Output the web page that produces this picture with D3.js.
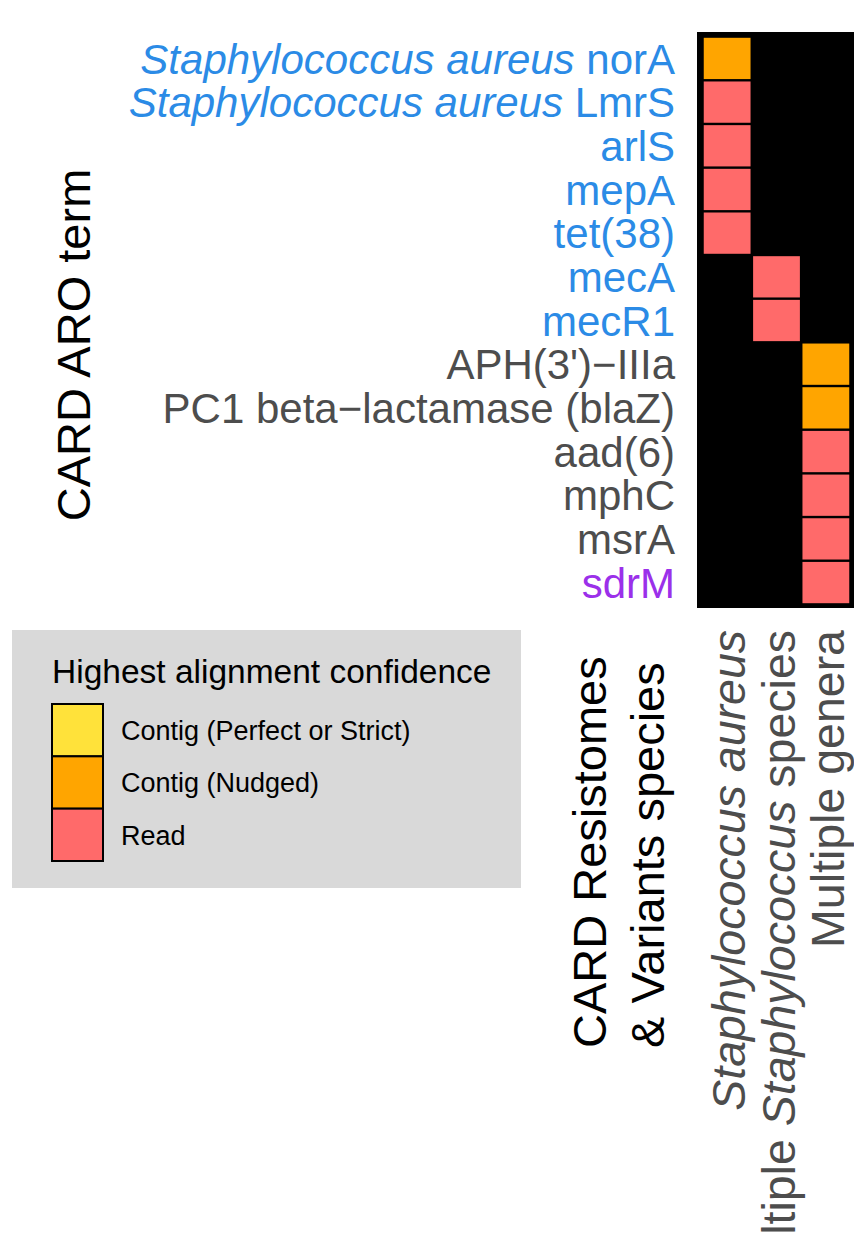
<!DOCTYPE html>
<html>
<head>
<meta charset="utf-8">
<script src="https://cdn.jsdelivr.net/npm/d3@7"></script>
<style>
  html, body { margin: 0; padding: 0; background: #fff; }
  svg { display: block; font-family: "Liberation Sans", Arial, Helvetica, sans-serif; }
</style>
</head>
<body>
<svg id="chart" width="854" height="1233"></svg>
<script>
// ---- Data ----
// Row labels: [italic part, normal part]
const rowItalic = ["Staphylococcus aureus", "Staphylococcus aureus", "", "", "", "", "", "", "", "", "", "", ""];
const rowNormal = ["norA", "LmrS", "arlS", "mepA", "tet(38)", "mecA", "mecR1", "APH(3')\u2212IIIa", "PC1 beta\u2212lactamase (blaZ)", "aad(6)", "mphC", "msrA", "sdrM"];
const rowGroup = ["blue", "blue", "blue", "blue", "blue", "blue", "blue", "gray", "gray", "gray", "gray", "gray", "purple"];
// Column (species) each term is assigned to
const rowColumn = [0, 0, 0, 0, 0, 1, 1, 2, 2, 2, 2, 2, 2];
// Highest alignment confidence of each term
const rowConfidence = ["Contig (Nudged)", "Read", "Read", "Read", "Read", "Read", "Read",
                       "Contig (Nudged)", "Contig (Nudged)", "Read", "Read", "Read", "Read"];
// Column labels: pieces [text, italic?]
const columnLabels = [
  [["Staphylococcus aureus", true]],
  [["Multiple ", false], ["Staphylococcus", true], [" species", false]],
  [["Multiple genera", false]]
];
const legendLevels = ["Contig (Perfect or Strict)", "Contig (Nudged)", "Read"];
const legendTitle = "Highest alignment confidence";
const yTitle = "CARD ARO term";
const xTitleLines = ["CARD Resistomes", "& Variants species"];

// ---- Styles ----
const fillColor = d3.scaleOrdinal().domain(legendLevels).range(["#FFE23A", "#FFA500", "#FF6A6A"]);
const labelColor = d3.scaleOrdinal().domain(["blue", "gray", "purple"]).range(["#2B8BE6", "#4D4D4D", "#9B30EA"]);

const svg = d3.select("#chart");
const rowIdx = d3.range(rowNormal.length);
const colIdx = d3.range(columnLabels.length);

const x = d3.scaleBand().domain(colIdx).range([703.75, 849.25]).paddingInner(0.052);
const y = d3.scaleBand().domain(rowIdx).range([37.8, 603.2]).paddingInner(0.055);

// Panel background
svg.append("rect").attr("x", 697).attr("y", 32).attr("width", 170).attr("height", 576).attr("fill", "#000");

// Cells
svg.append("g").selectAll("rect").data(rowIdx).join("rect")
  .attr("x", i => x(rowColumn[i]))
  .attr("y", i => y(i))
  .attr("width", x.bandwidth())
  .attr("height", y.bandwidth())
  .attr("fill", i => fillColor(rowConfidence[i]));

// Row labels
const rl = svg.append("g").selectAll("text").data(rowIdx).join("text")
  .attr("x", 675)
  .attr("y", i => y(i) + y.bandwidth() / 2)
  .attr("dy", "0.36em")
  .attr("text-anchor", "end")
  .attr("font-size", 42)
  .attr("fill", i => labelColor(rowGroup[i]));
rl.each(function(i) {
  const t = d3.select(this);
  if (rowItalic[i]) t.append("tspan").attr("font-style", "italic").text(rowItalic[i] + " ");
  t.append("tspan").text(rowNormal[i]);
});

// Column labels (rotated)
colIdx.forEach(j => {
  const cx = x(j) + x.bandwidth() / 2 + 18;
  const t = svg.append("text")
    .attr("transform", `translate(${cx},630) rotate(-90)`)
    .attr("text-anchor", "end")
    .attr("font-size", 46.5)
    .attr("fill", "#4D4D4D");
  columnLabels[j].forEach(p => {
    t.append("tspan").attr("font-style", p[1] ? "italic" : "normal").text(p[0]);
  });
});

// Y axis title
svg.append("text")
  .attr("transform", "translate(90,345) rotate(-90)")
  .attr("text-anchor", "middle")
  .attr("font-size", 47)
  .attr("fill", "#000")
  .text(yTitle);

// X title (two lines, rotated)
xTitleLines.forEach((s, k) => {
  svg.append("text")
    .attr("transform", `translate(${606 + k * 58},1048) rotate(-90)`)
    .attr("text-anchor", "start")
    .attr("font-size", 47)
    .attr("fill", "#000")
    .text(s);
});

// Legend
const lg = svg.append("g");
lg.append("rect").attr("x", 12).attr("y", 630).attr("width", 509).attr("height", 258).attr("fill", "#D9D9D9");
lg.append("text").attr("x", 52).attr("y", 683).attr("font-size", 33.5).attr("fill", "#000").text(legendTitle);
const ly = d3.scaleBand().domain(legendLevels).range([704, 861]);
lg.selectAll("rect.key").data(legendLevels).join("rect").attr("class", "key")
  .attr("x", 52).attr("y", d => ly(d)).attr("width", 51).attr("height", ly.bandwidth())
  .attr("fill", d => fillColor(d)).attr("stroke", "#000").attr("stroke-width", 2);
lg.selectAll("text.lab").data(legendLevels).join("text").attr("class", "lab")
  .attr("x", 121).attr("y", d => ly(d) + ly.bandwidth() / 2).attr("dy", "0.36em")
  .attr("font-size", 27).attr("fill", "#000").text(d => d);
</script>
</body>
</html>
